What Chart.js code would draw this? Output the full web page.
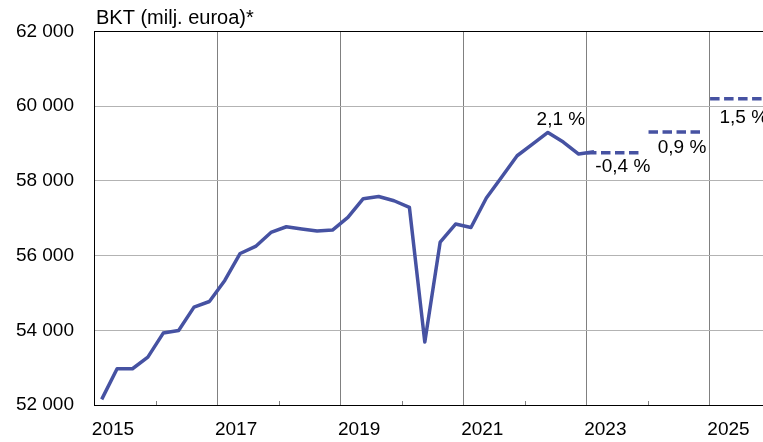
<!DOCTYPE html>
<html>
<head>
<meta charset="utf-8">
<script src="https://cdn.jsdelivr.net/npm/chart.js@4/dist/chart.umd.min.js"></script>
<style>
  html, body { margin: 0; padding: 0; background: #ffffff; }
  #wrap { width: 763px; height: 442px; position: relative; }
</style>
</head>
<body>
<div id="wrap"><canvas id="c" width="763" height="442"></canvas></div>
<script>
// ---- data ----
const titleText = 'BKT (milj. euroa)*';
const firstYear = 2015;
// quarterly GDP, 2015Q1 ... 2023Q1
const gdpQuarterly = [
  52150, 52970, 52970, 53280,
  53925, 53995, 54620, 54770,
  55333, 56056, 56244, 56618,
  56771, 56710, 56656, 56683,
  57020, 57521, 57580, 57467,
  57288, 53684, 56361, 56843,
  56752, 57539, 58101, 58672,
  58985, 59296, 59039, 58717,
  58780
];
const forecastYears = [2023, 2024, 2025];
const forecastValues = [58752, 59307, 60198];
const growthLabels = ['2,1 %', '-0,4 %', '0,9 %', '1,5 %'];
const xTickYears = [2015, 2016, 2017, 2018, 2019, 2020, 2021, 2022, 2023, 2024, 2025];
const yTicks = [52000, 54000, 56000, 58000, 60000, 62000];

// ---- build ----
const lineColor = '#4652a2';
const quarterlyPts = gdpQuarterly.map((v, i) => ({ x: firstYear + (i + 0.5) / 4, y: v }));
const forecastSets = forecastYears.map((yr, i) => ({
  data: [{ x: yr + 0.01, y: forecastValues[i] }, { x: yr + 0.9, y: forecastValues[i] }],
  borderColor: lineColor,
  borderWidth: 3.5,
  borderDash: [9.5, 4.5],
  borderCapStyle: 'butt',
  pointRadius: 0,
  tension: 0
}));

const fontFam = '"Liberation Sans", Arial, Helvetica, sans-serif';

const extras = {
  id: 'extras',
  beforeDatasetsDraw(chart) {
    const { ctx, scales: { x }, chartArea } = chart;
    ctx.save();
    ctx.strokeStyle = '#808080';
    ctx.lineWidth = 1;
    xTickYears.forEach(yr => {
      if (yr % 2 === 0) {
        const px = Math.round(x.getPixelForValue(yr)) + 0.5;
        ctx.beginPath();
        ctx.moveTo(px, chartArea.bottom);
        ctx.lineTo(px, chartArea.bottom - 4);
        ctx.stroke();
      }
    });
    ctx.restore();
  },
  afterDraw(chart) {
    const { ctx, scales: { x, y } } = chart;
    ctx.save();
    ctx.fillStyle = '#000';
    ctx.font = '20px ' + fontFam;
    ctx.textBaseline = 'alphabetic';
    ctx.textAlign = 'left';
    ctx.fillText(titleText, 96, 23.5);

    ctx.font = '19px ' + fontFam;
    ctx.textBaseline = 'middle';
    // 2022 growth label above the 2022 peak
    const q22 = gdpQuarterly.slice(28, 32);
    const peakIdx = 28 + q22.indexOf(Math.max(...q22));
    const pk = quarterlyPts[peakIdx];
    ctx.textAlign = 'center';
    ctx.fillText(growthLabels[0], x.getPixelForValue(pk.x) + 13, y.getPixelForValue(pk.y) - 13);
    // 2023
    ctx.textAlign = 'left';
    ctx.fillText(growthLabels[1], x.getPixelForValue(forecastYears[0]) + 9, y.getPixelForValue(forecastValues[0]) + 14);
    // 2024
    ctx.textAlign = 'right';
    ctx.fillText(growthLabels[2], x.getPixelForValue(forecastYears[1] + 0.9) + 3, y.getPixelForValue(forecastValues[1]) + 16);
    // 2025
    ctx.textAlign = 'left';
    ctx.fillText(growthLabels[3], x.getPixelForValue(forecastYears[2]) + 10, y.getPixelForValue(forecastValues[2]) + 19);
    ctx.restore();
  }
};

new Chart(document.getElementById('c'), {
  type: 'line',
  data: {
    datasets: [{
      data: quarterlyPts,
      borderColor: lineColor,
      borderWidth: 3.5,
      pointRadius: 0,
      tension: 0,
      borderJoinStyle: 'round'
    }, ...forecastSets]
  },
  options: {
    responsive: false,
    animation: false,
    events: [],
    layout: { padding: { top: 31, right: 0, left: 0, bottom: 0 } },
    plugins: { legend: { display: false }, tooltip: { enabled: false }, title: { display: false } },
    scales: {
      x: {
        type: 'linear',
        min: 2015,
        max: 2025.87,
        afterBuildTicks(scale) { scale.ticks = xTickYears.map(v => ({ value: v })); },
        afterFit(scale) { scale.height = 37; },
        border: { display: true, color: '#000', width: 1 },
        grid: {
          drawTicks: false,
          lineWidth: 1,
          color(ctx) {
            const v = ctx.tick && ctx.tick.value;
            if (v === 2015) return '#000';
            return v % 2 === 1 ? '#808080' : 'rgba(0,0,0,0)';
          }
        },
        ticks: {
          autoSkip: false,
          maxRotation: 0,
          padding: 13,
          labelOffset: 19,
          color: '#000',
          font: { size: 19, family: fontFam },
          callback(v) { return v % 2 === 1 ? String(v) : ''; }
        }
      },
      y: {
        min: 52000,
        max: 62000,
        afterBuildTicks(scale) { scale.ticks = yTicks.map(v => ({ value: v })); },
        afterFit(scale) { scale.width = 94; },
        border: { display: true, color: '#000', width: 1 },
        grid: {
          drawTicks: false,
          lineWidth: 1,
          color(ctx) {
            const v = ctx.tick && ctx.tick.value;
            if (v === 62000 || v === 52000) return '#000';
            return '#b3b3b3';
          }
        },
        ticks: {
          padding: 20,
          color: '#000',
          font: { size: 19, family: fontFam },
          callback(v) { return String(v).replace(/\B(?=(\d{3})+(?!\d))/g, ' '); }
        }
      }
    }
  },
  plugins: [extras]
});
</script>
</body>
</html>
